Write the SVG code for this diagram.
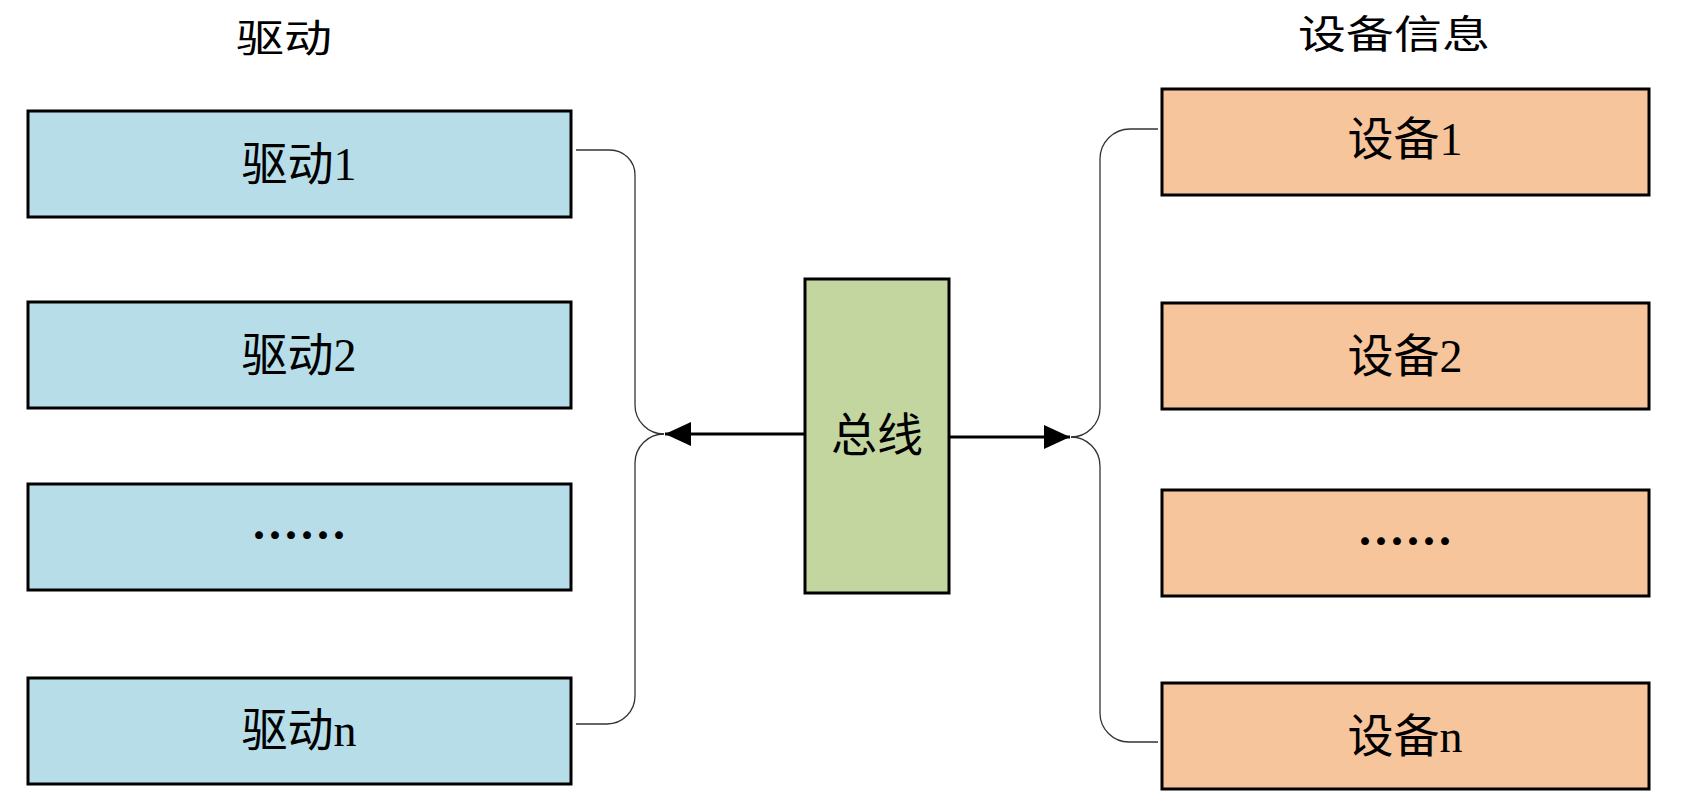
<svg xmlns="http://www.w3.org/2000/svg" width="1693" height="810" viewBox="0 0 1693 810">
<style>
.drv{fill:#B7DDE8;stroke:#000;stroke-width:3}
.dev{fill:#F7C59B;stroke:#000;stroke-width:3}
.bus{fill:#C4D6A0;stroke:#000;stroke-width:3}
.t{font-family:"Liberation Serif","Noto Sans CJK SC",serif;font-size:46px;fill:#000;text-anchor:middle}
.e{font-family:"Noto Sans CJK SC",sans-serif;font-size:48px;font-weight:bold;fill:#000;text-anchor:middle}
.h{font-family:"Liberation Serif","Noto Sans CJK SC",serif;font-size:48px;fill:#000;text-anchor:middle}
.c{fill:none;stroke:#333;stroke-width:1.3}
.a{fill:none;stroke:#000;stroke-width:3}
</style>
<defs>
<marker id="ah" viewBox="0 0 26 24" refX="26" refY="12" markerWidth="26" markerHeight="24" markerUnits="userSpaceOnUse" orient="auto">
<path d="M0,0 L26,12 L0,24 Z" fill="#000"/>
</marker>
</defs>
<g id="title-drivers"><text class="h" transform="translate(284,52) scale(1,0.8)">驱动</text></g>
<g id="title-devices"><text class="h" transform="translate(1394,48) scale(1,0.8)">设备信息</text></g>
<g id="drv1"><rect class="drv" x="28" y="111" width="543" height="106"/><text class="t" x="299" y="180">驱动1</text></g>
<g id="drv2"><rect class="drv" x="28" y="302" width="543" height="106"/><text class="t" x="299" y="371">驱动2</text></g>
<g id="drv3"><rect class="drv" x="28" y="484" width="543" height="106"/><text class="e" x="299" y="553">……</text></g>
<g id="drvn"><rect class="drv" x="28" y="678" width="543" height="106"/><text class="t" x="299" y="746">驱动n</text></g>
<g id="dev1"><rect class="dev" x="1162" y="89" width="487" height="106"/><text class="t" x="1405" y="155">设备1</text></g>
<g id="dev2"><rect class="dev" x="1162" y="303" width="487" height="106"/><text class="t" x="1405" y="372">设备2</text></g>
<g id="dev3"><rect class="dev" x="1162" y="490" width="487" height="106"/><text class="e" x="1405" y="559">……</text></g>
<g id="devn"><rect class="dev" x="1162" y="683" width="487" height="106"/><text class="t" x="1405" y="752">设备n</text></g>
<g id="bus"><rect class="bus" x="805" y="279" width="144" height="314"/><text class="t" x="877" y="451">总线</text></g>
<g id="connectors">
<path class="c" d="M576,150 H610 A25,25 0 0 1 635,175 V405 A29,29 0 0 0 664,434"/>
<path class="c" d="M664,434 A29,29 0 0 0 635,463 V696 A28,28 0 0 1 607,724 H576"/>
<path class="c" d="M1158,129 H1130 A30,30 0 0 0 1100,159 V408 A29,29 0 0 1 1071,437"/>
<path class="c" d="M1071,437 A29,29 0 0 1 1100,466 V713 A29,29 0 0 0 1129,742 H1158"/>
<line class="a" x1="805" y1="434" x2="665" y2="434" marker-end="url(#ah)"/>
<line class="a" x1="949" y1="437" x2="1070" y2="437" marker-end="url(#ah)"/>
</g>
</svg>
